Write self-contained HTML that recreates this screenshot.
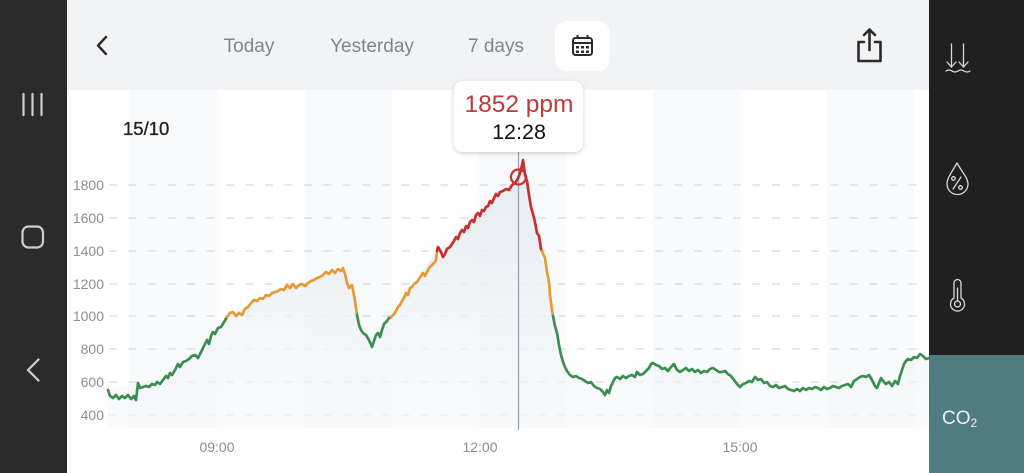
<!DOCTYPE html>
<html><head><meta charset="utf-8"><style>
html,body{margin:0;padding:0;width:1024px;height:473px;overflow:hidden;background:#fff}
svg{display:block}
text{font-family:"Liberation Sans",sans-serif}
</style></head><body>
<svg width="1024" height="473" viewBox="0 0 1024 473" xmlns="http://www.w3.org/2000/svg">
<defs>
<linearGradient id="fg" x1="0" y1="160" x2="0" y2="425" gradientUnits="userSpaceOnUse">
<stop offset="0" stop-color="#e4ebf1"/><stop offset="1" stop-color="#f6f8fa" stop-opacity="0.6"/>
</linearGradient>
<filter id="sh" x="-20%" y="-20%" width="140%" height="150%"><feDropShadow dx="0" dy="1.5" stdDeviation="2.5" flood-color="#000" flood-opacity="0.18"/></filter>
</defs>
<!-- main bg -->
<rect x="67" y="0" width="862" height="473" fill="#fff"/>
<!-- hour bands -->
<g fill="#f9fafb">
<rect x="129" y="90" width="88" height="338"/>
<rect x="305" y="90" width="87" height="338"/>
<rect x="479" y="90" width="87" height="338"/>
<rect x="653" y="90" width="87" height="338"/>
<rect x="827" y="90" width="87" height="338"/>
</g>
<!-- header -->
<rect x="67" y="0" width="862" height="90" fill="#f2f3f5"/>
<polyline points="106,37 98,45.5 106,54" fill="none" stroke="#2b2b2b" stroke-width="2.4" stroke-linecap="round" stroke-linejoin="round"/>
<g font-size="19" fill="#80858c" text-anchor="middle">
<text x="249" y="52">Today</text>
<text x="372" y="52">Yesterday</text>
<text x="496" y="52">7 days</text>
</g>
<rect x="555" y="21" width="55" height="50" rx="12" fill="#fff"/>
<g fill="none" stroke="#2b2b2b" stroke-width="2">
<rect x="573" y="38" width="19" height="17" rx="2.5"/>
<line x1="573" y1="43" x2="592" y2="43"/>
<line x1="577.5" y1="35" x2="577.5" y2="39"/>
<line x1="587.5" y1="35" x2="587.5" y2="39"/>
</g>
<g fill="#2b2b2b">
<rect x="576" y="46" width="3" height="2.5"/><rect x="581" y="46" width="3" height="2.5"/><rect x="586" y="46" width="3" height="2.5"/>
<rect x="576" y="50.5" width="3" height="2.5"/><rect x="581" y="50.5" width="3" height="2.5"/><rect x="586" y="50.5" width="3" height="2.5"/>
</g>
<!-- share -->
<g fill="none" stroke="#2b2b2b" stroke-width="2.6" stroke-linecap="round" stroke-linejoin="round">
<path d="M864,42 H858.5 V61 H880.5 V42 H875"/>
<line x1="869.5" y1="30" x2="869.5" y2="50"/>
<polyline points="864,35 869.5,29.5 875,35"/>
</g>
<!-- grid -->
<g stroke="#e5e7ea" stroke-width="2" stroke-dasharray="8 11.5">
<line x1="109" y1="185" x2="920" y2="185"/>
<line x1="109" y1="218" x2="920" y2="218"/>
<line x1="109" y1="251" x2="920" y2="251"/>
<line x1="109" y1="284" x2="920" y2="284"/>
<line x1="109" y1="316" x2="920" y2="316"/>
<line x1="109" y1="349" x2="920" y2="349"/>
<line x1="109" y1="382" x2="920" y2="382"/>
<line x1="109" y1="415" x2="920" y2="415"/>
</g>
<g font-size="14" fill="#8a8f96" text-anchor="end">
<text x="104" y="190">1800</text>
<text x="104" y="223">1600</text>
<text x="104" y="256">1400</text>
<text x="104" y="289">1200</text>
<text x="104" y="321">1000</text>
<text x="104" y="354">800</text>
<text x="104" y="387">600</text>
<text x="104" y="420">400</text>
</g>
<g font-size="14" fill="#8a8f96" text-anchor="middle">
<text x="217" y="452">09:00</text>
<text x="480" y="452">12:00</text>
<text x="740" y="452">15:00</text>
</g>
<text x="123" y="135" font-size="18.5" fill="#222" stroke="#222" stroke-width="0.35">15/10</text>
<!-- fill -->
<path fill="url(#fg)" d="M108,390 L138,383 L170,373 L198,358 L227,317 L260,298 L290,288 L320,277 L343,268 L352,285 L357,315 L372,347 L391,317 L410,288 L437,251 L460,233 L480,216 L500,192 L517,180 L523,160 L535,222 L542,251 L553,316 L563,362 L570,375 L605,395 L617,377 L653,363 L700,373 L725,371 L740,387 L755,377 L791,390 L850,385 L869,375 L895,381 L908,359 L929,358 L929,428 L108,428 Z"/>
<!-- cursor line -->
<line x1="518.5" y1="152" x2="518.5" y2="430" stroke="#9aa4ae" stroke-width="1.3"/>
<!-- series -->
<g fill="none" stroke-width="2.7" stroke-linejoin="round" stroke-linecap="round">
<polyline stroke="#3a8f50" points="108,390 110,396 113,398 116,395 119,399 122,396 125,398 128,395 131,399 134,396 136,400 138,383 140,388 143,387 146,386 149,387 152,384 155,385 157,382 160,384 163,380 166,376 168,378 170,373 172,375 175,370 178,364 180,367 183,362 186,361 189,359 192,356 195,355 198,358 201,352 204,346 207,340 209,344 211,336 213,332 215,334 218,328 221,327 224,322 227,317"/>
<polyline stroke="#e69a32" points="227,317 230,313 233,312 236,316 239,313 242,315 245,309 248,307 251,303 254,300 257,301 260,298 263,299 266,295 269,296 272,293 275,292 278,291 281,289 284,290 287,285 290,288 293,284 296,288 299,285 302,284 305,286 308,283 311,281 314,280 317,278 320,277 323,275 326,272 329,274 332,270 335,273 338,269 341,271 343,268 345,274 347,283 349,288 352,285 354,295 356,308 357,315"/>
<polyline stroke="#3a8f50" points="357,315 359,325 361,330 363,333 366,335 369,340 372,347 374,341 376,335 378,333 380,337 382,330 384,324 387,321 389,318 391,317"/>
<polyline stroke="#e69a32" points="391,317 394,314 396,311 398,307 400,305 402,301 404,298 406,293 408,295 410,288 412,287 414,284 417,282 419,279 421,276 423,273 425,276 427,272 429,268 432,265 434,263 436,260 437,251"/>
<polyline stroke="#c7302f" points="437,251 438,247 441,252 443,257 445,254 447,249 450,247 452,244 454,241 456,237 458,239 460,233 462,230 464,232 466,226 468,228 470,222 472,220 474,222 476,215 478,213 480,216 482,210 484,211 486,207 488,206 490,201 492,203 494,198 496,194 498,196 500,192 503,191 506,189 509,190 512,185 515,183 517,180 519,176 521,170 523,160 525,175 527,181 529,195 531,207 533,214 535,222 537,233 539,236 541,249 542,251"/>
<polyline stroke="#e69a32" points="542,251 545,258 547,272 549,282 550,295 552,310 553,316"/>
<polyline stroke="#3a8f50" points="553,316 555,326 557,333 559,345 561,355 563,362 565,367 567,371 570,375 573,377 576,376 579,378 582,379 585,381 588,383 591,382 594,386 597,388 600,389 603,392 605,395 607,390 609,393 611,386 613,382 615,378 617,377 620,379 623,376 626,378 629,376 632,375 635,377 637,372 640,375 643,374 646,371 649,368 651,364 653,363 656,365 659,366 662,369 665,368 668,371 671,367 674,364 677,370 680,372 683,370 686,368 689,371 692,369 695,372 698,370 701,373 704,371 707,372 710,369 713,368 716,370 719,372 722,372 725,371 728,374 731,376 734,380 737,384 740,387 743,384 746,383 749,381 752,382 755,377 758,380 761,379 764,383 767,382 770,386 773,387 776,385 779,388 782,387 785,386 788,389 791,390 794,391 797,389 800,391 803,388 806,390 809,388 812,389 815,387 818,388 821,390 824,387 827,389 830,388 833,386 836,387 839,388 842,386 845,385 848,384 851,387 854,381 857,379 860,377 863,376 866,377 869,375 872,380 875,386 877,388 879,383 881,378 883,381 886,384 889,382 892,386 895,381 898,384 900,376 902,370 904,364 906,361 908,359 911,360 914,357 917,358 920,354 923,356 926,359 929,358"/>
</g>
<circle cx="518.5" cy="177" r="7.5" fill="none" stroke="#c7302f" stroke-width="2.2"/>
<!-- tooltip -->
<rect x="454" y="81" width="129" height="71" rx="9" fill="#fff" filter="url(#sh)"/>
<text x="519" y="112" font-size="24.5" fill="#c0393b" text-anchor="middle">1852 ppm</text>
<text x="519" y="139" font-size="21.5" fill="#111" text-anchor="middle">12:28</text>
<!-- left nav -->
<rect x="0" y="0" width="67" height="473" fill="#2b2b2b"/>
<g stroke="#cfcfcf" stroke-width="2.2" stroke-linecap="round" fill="none">
<line x1="23.5" y1="94" x2="23.5" y2="115"/>
<line x1="32.5" y1="94" x2="32.5" y2="115"/>
<line x1="41.5" y1="94" x2="41.5" y2="115"/>
<rect x="22.5" y="226.5" width="20.5" height="21" rx="6"/>
<polyline points="38.5,359.5 28,370 38.5,380.5"/>
</g>
<!-- right sidebar -->
<rect x="929" y="0" width="95" height="473" fill="#202020"/>
<rect x="929" y="355" width="95" height="118" fill="#507c7f"/>
<g fill="none" stroke="#d8d8d8" stroke-width="1.3" stroke-linecap="round" stroke-linejoin="round">
<line x1="951.5" y1="44" x2="951.5" y2="67"/>
<polyline points="947,62 951.5,67 956,62"/>
<line x1="963.5" y1="44" x2="963.5" y2="67"/>
<polyline points="959,62 963.5,67 968,62"/>
<path d="M946,71 q3,-2 6,0 t6,0 t6,0 t6,0"/>
<path d="M957,163 C962,172 968,178 968,184 A10.5,10.5 0 0 1 947,184 C947,178 952,172 957,163 Z"/>
<line x1="953" y1="189" x2="961" y2="177"/>
<circle cx="953.5" cy="178.5" r="1.8"/>
<circle cx="960.5" cy="187.5" r="1.8"/>
<path d="M954,298 V283 A3.5,3.5 0 0 1 961,283 V298 A7,7 0 1 1 954,298 Z"/>
<circle cx="957.5" cy="304" r="3"/>
<line x1="957.5" y1="288" x2="957.5" y2="301"/>
</g>
<text x="942" y="424" font-size="19" fill="#eef3f3">CO<tspan font-size="12" dy="3">2</tspan></text>
</svg>
</body></html>
